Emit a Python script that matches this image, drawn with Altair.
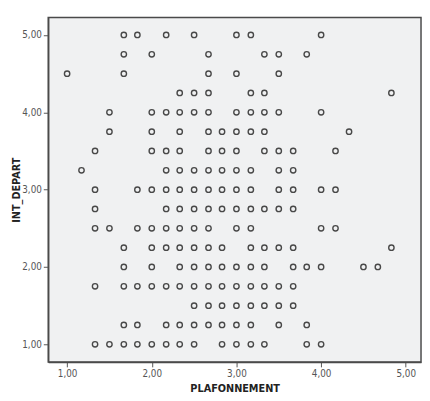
import altair as alt
import pandas as pd

# INT_DEPART levels (y) and the PLAFONNEMENT values (x) present at each level
row_500 = [1.67, 1.83, 2.17, 2.50, 3.00, 3.17, 4.00]
row_475 = [1.67, 2.00, 2.67, 3.33, 3.50, 3.83]
row_450 = [1.00, 1.67, 2.67, 3.00, 3.50]
row_425 = [2.33, 2.50, 2.67, 3.17, 3.33, 4.83]
row_400 = [1.50, 2.00, 2.17, 2.33, 2.50, 2.67, 3.00, 3.17, 3.33, 3.50, 4.00]
row_375 = [1.50, 2.00, 2.33, 2.67, 2.83, 3.00, 3.17, 3.33, 4.33]
row_350 = [1.33, 2.00, 2.17, 2.33, 2.67, 2.83, 3.00, 3.33, 3.50, 3.67, 4.17]
row_325 = [1.17, 2.17, 2.33, 2.50, 2.67, 2.83, 3.00, 3.17, 3.50, 3.67]
row_300 = [1.33, 1.83, 2.00, 2.17, 2.33, 2.50, 2.67, 2.83, 3.00, 3.17, 3.50, 3.67, 4.00, 4.17]
row_275 = [1.33, 2.17, 2.33, 2.50, 2.67, 2.83, 3.00, 3.17, 3.33, 3.50, 3.67]
row_250 = [1.33, 1.50, 1.83, 2.00, 2.17, 2.33, 2.50, 2.67, 3.00, 3.17, 4.00, 4.17]
row_225 = [1.67, 2.00, 2.17, 2.33, 2.50, 2.67, 2.83, 3.17, 3.33, 3.50, 3.67, 4.83]
row_200 = [1.67, 2.00, 2.33, 2.50, 2.67, 2.83, 3.00, 3.17, 3.33, 3.67, 3.83, 4.00, 4.50, 4.67]
row_175 = [1.33, 1.67, 1.83, 2.00, 2.17, 2.33, 2.50, 2.67, 2.83, 3.00, 3.17, 3.33, 3.50, 3.67]
row_150 = [2.50, 2.67, 2.83, 3.00, 3.17, 3.33, 3.50, 3.67]
row_125 = [1.67, 1.83, 2.17, 2.33, 2.50, 2.67, 2.83, 3.00, 3.17, 3.50, 3.83]
row_100 = [1.33, 1.50, 1.67, 1.83, 2.00, 2.17, 2.33, 2.50, 2.83, 3.00, 3.17, 3.33, 3.83, 4.00]

y_levels = [5.00, 4.75, 4.50, 4.25, 4.00, 3.75, 3.50, 3.25, 3.00,
            2.75, 2.50, 2.25, 2.00, 1.75, 1.50, 1.25, 1.00]
rows = [row_500, row_475, row_450, row_425, row_400, row_375, row_350, row_325,
        row_300, row_275, row_250, row_225, row_200, row_175, row_150, row_125, row_100]

tick_values = [1, 2, 3, 4, 5]

records = [{"PLAFONNEMENT": x, "INT_DEPART": y}
           for y, xs in zip(y_levels, rows) for x in xs]
df = pd.DataFrame(records)

label_expr = "replace(format(datum.value, '.2f'), '.', ',')"
font = "Liberation Sans Narrow, Arial Narrow, DejaVu Sans Condensed, Liberation Sans"

common_axis = dict(
    values=tick_values,
    labelExpr=label_expr,
    grid=False,
    domainColor="#4a4a4a",
    domainWidth=1.5,
    tickColor="#555555",
    tickSize=5,
    labelPadding=2,
    labelFont=font,
    labelFontSize=10,
    labelColor="#555555",
    titleFont=font,
    titleFontSize=11,
    titleFontWeight="bold",
    titleColor="#222222",
)

chart = (
    alt.Chart(df)
    .mark_point(shape="circle", filled=False, size=30, strokeWidth=1.4,
                color="#484848", opacity=1)
    .encode(
        x=alt.X("PLAFONNEMENT:Q",
                scale=alt.Scale(domain=[0.777, 5.18], nice=False, zero=False),
                axis=alt.Axis(title="PLAFONNEMENT", titleBaseline="top", titleY=21,
                              **common_axis)),
        y=alt.Y("INT_DEPART:Q",
                scale=alt.Scale(domain=[0.772, 5.225], nice=False, zero=False),
                axis=alt.Axis(title="INT_DEPART", titleBaseline="bottom", titleX=-27,
                              titleAngle=270, **common_axis)),
    )
    .properties(
        width=380,
        height=351,
        autosize=alt.AutoSizeParams(type="none"),
        padding={"left": 41, "top": 6, "right": 1, "bottom": 34},
        background="white",
    )
    .configure_view(fill="#F0F1F2", stroke="#4a4a4a", strokeWidth=1.5)
)

chart.save("out.html", embed_options={"renderer": "svg", "actions": False})
